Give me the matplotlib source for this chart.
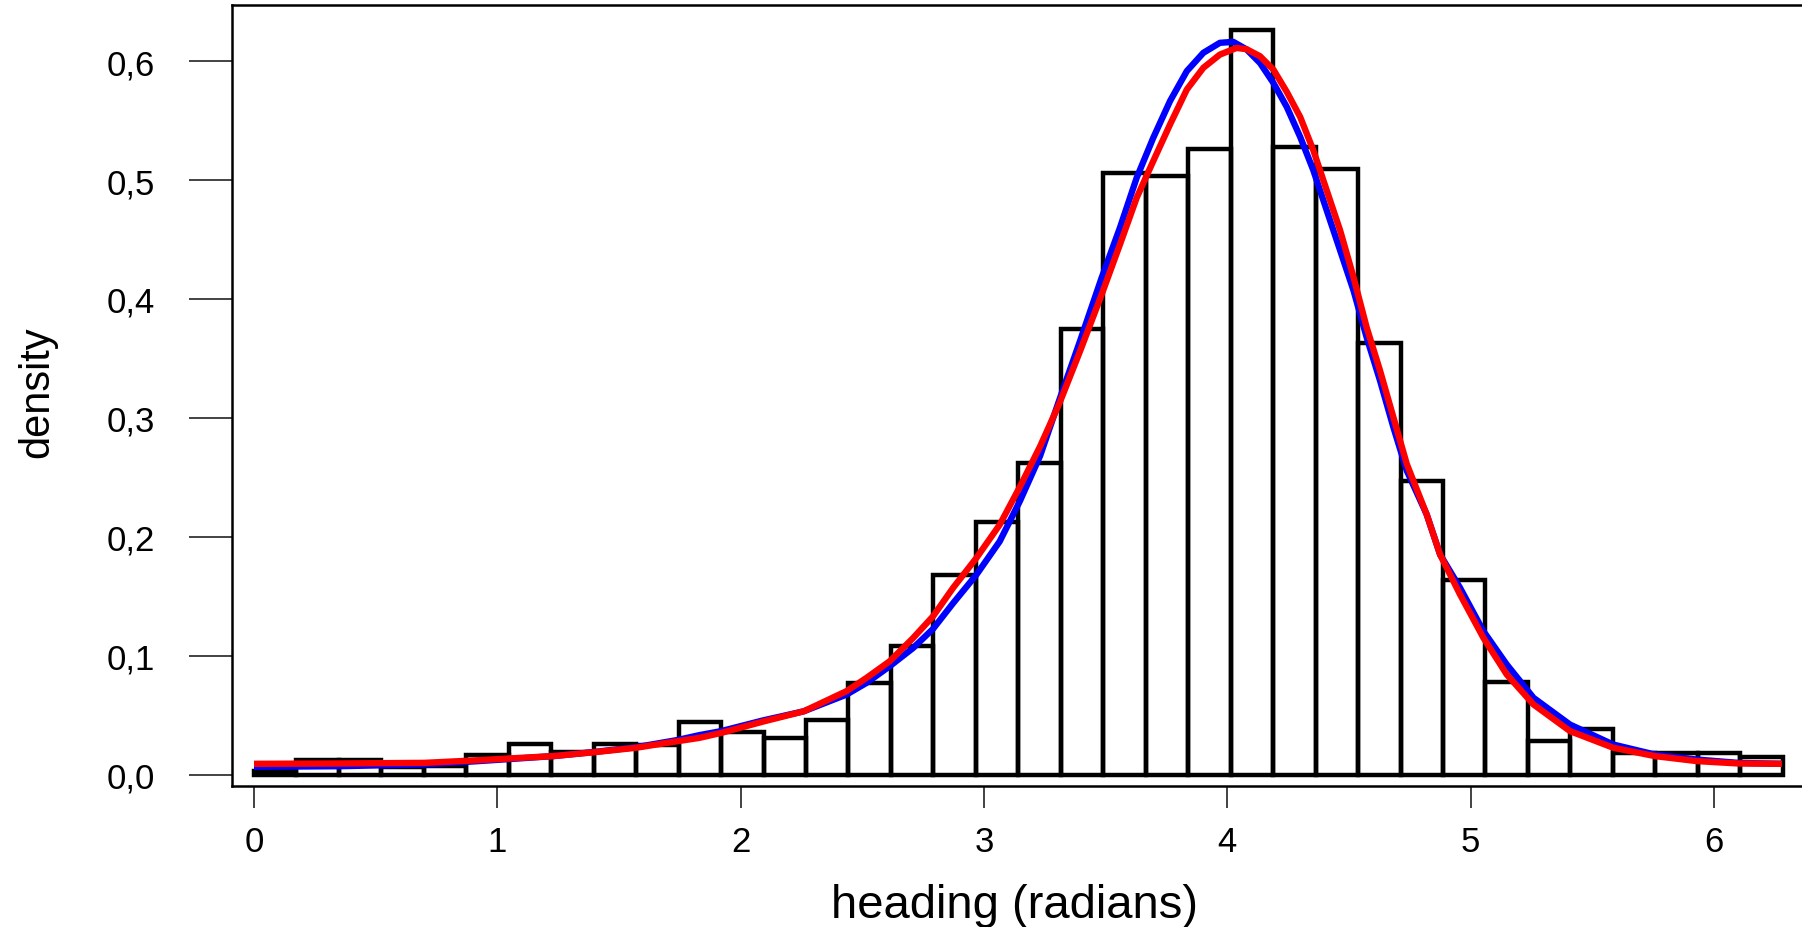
import numpy as np
import matplotlib
matplotlib.use("Agg")
import matplotlib.pyplot as plt

# ---------------- data ----------------
n_bins = 36
hist_density = [0.003, 0.012, 0.012, 0.006, 0.007, 0.016, 0.026, 0.019, 0.026, 0.025,
                0.044, 0.036, 0.031, 0.046, 0.077, 0.108, 0.168, 0.212, 0.262, 0.375,
                0.506, 0.503, 0.526, 0.626, 0.528, 0.509, 0.363, 0.247, 0.164, 0.078,
                0.028, 0.038, 0.018, 0.018, 0.018, 0.015]

blue_x = [0.0, 0.35, 0.70, 0.90, 1.05, 1.23, 1.40, 1.57, 1.74, 1.83, 1.92, 2.09, 2.26,
          2.435, 2.517, 2.613, 2.709, 2.791, 2.873, 2.969, 3.065, 3.148, 3.231, 3.310,
          3.395, 3.484, 3.559, 3.628, 3.696, 3.765, 3.834, 3.902, 3.970, 4.025, 4.080,
          4.135, 4.190, 4.245, 4.300, 4.354, 4.409, 4.464, 4.519, 4.573, 4.628, 4.683,
          4.738, 4.820, 4.875, 4.957, 5.053, 5.149, 5.259, 5.409, 5.587, 5.758, 5.93,
          6.10, 6.28]
blue_y = [0.0065, 0.007, 0.0085, 0.011, 0.013, 0.0155, 0.019, 0.023, 0.029, 0.0331,
          0.0365, 0.0454, 0.0532, 0.0672, 0.077, 0.0911, 0.1064, 0.1225, 0.1440, 0.168,
          0.1961, 0.230, 0.268, 0.3150, 0.3645, 0.4178, 0.4598, 0.5019, 0.5355, 0.5664,
          0.5916, 0.607, 0.6154, 0.6162, 0.6098, 0.5984, 0.5816, 0.5614, 0.5362, 0.5082,
          0.4745, 0.4409, 0.4072, 0.3678, 0.3314, 0.2921, 0.2556, 0.2187, 0.185, 0.157,
          0.1206, 0.0925, 0.0645, 0.042, 0.0252, 0.0168, 0.0126, 0.0098, 0.009]

red_x = [0.0, 0.35, 0.70, 0.90, 1.05, 1.23, 1.40, 1.57, 1.74, 1.83, 1.92, 2.09, 2.26,
         2.435, 2.517, 2.613, 2.709, 2.791, 2.873, 2.969, 3.065, 3.148, 3.231, 3.310,
         3.395, 3.484, 3.559, 3.628, 3.696, 3.765, 3.834, 3.902, 3.970, 4.039, 4.080,
         4.135, 4.190, 4.245, 4.300, 4.354, 4.409, 4.464, 4.519, 4.573, 4.628, 4.683,
         4.738, 4.820, 4.875, 4.957, 5.053, 5.149, 5.259, 5.409, 5.587, 5.758, 5.93,
         6.10, 6.28]
red_y = [0.009, 0.0093, 0.0098, 0.0118, 0.0135, 0.0155, 0.0188, 0.0225, 0.028, 0.0308,
         0.035, 0.0444, 0.0532, 0.0701, 0.0812, 0.0953, 0.1148, 0.1331, 0.1569, 0.1821,
         0.2101, 0.2420, 0.2760, 0.3120, 0.3560, 0.4037, 0.4457, 0.4851, 0.5159, 0.5467,
         0.5761, 0.5944, 0.6055, 0.6111, 0.6100, 0.6041, 0.5928, 0.5741, 0.5530, 0.5250,
         0.4913, 0.4577, 0.4184, 0.3762, 0.3398, 0.3005, 0.2612, 0.2187, 0.185, 0.1514,
         0.115, 0.0841, 0.0589, 0.0365, 0.0225, 0.0155, 0.0113, 0.0093, 0.009]

x_ticks = [0, 1, 2, 3, 4, 5, 6]
x_tick_labels = ["0", "1", "2", "3", "4", "5", "6"]
y_ticks = [0.0, 0.1, 0.2, 0.3, 0.4, 0.5, 0.6]
y_tick_labels = ["0,0", "0,1", "0,2", "0,3", "0,4", "0,5", "0,6"]
x_label = "heading (radians)"
y_label = "density"

# ---------------- figure ----------------
W, H = 1802, 928
fig = plt.figure(figsize=(W / 100, H / 100), dpi=100)
ax_left, ax_right, ax_top, ax_bottom = 232.3, 1802, 6, 786.7
ax = fig.add_axes([ax_left / W, 1 - ax_bottom / H,
                   (ax_right - ax_left) / W, (ax_bottom - ax_top) / H])

font = ["Liberation Sans", "DejaVu Sans"]

edges = np.linspace(0, 2 * np.pi, n_bins + 1)
ax.bar(edges[:-1], hist_density, width=np.diff(edges), align="edge",
       fill=False, edgecolor="black", linewidth=3.2, zorder=2)

ax.plot(blue_x, blue_y, color="#0000ff", linewidth=4.6, zorder=3,
        solid_joinstyle="round", solid_capstyle="butt")
ax.plot(red_x, red_y, color="#ff0000", linewidth=4.6, zorder=4,
        solid_joinstyle="round", solid_capstyle="butt")

ax.set_xlim(-0.0892, 6.3625)
ax.set_ylim(-0.0094, 0.6472)

ax.spines["right"].set_visible(False)
for s in ["left", "top", "bottom"]:
    ax.spines[s].set_linewidth(1.8)
    ax.spines[s].set_color("black")

ax.set_xticks(x_ticks)
ax.set_xticklabels(x_tick_labels, fontsize=25, family=font)
ax.set_yticks(y_ticks)
ax.set_yticklabels(y_tick_labels, fontsize=25, family=font)
ax.tick_params(axis="x", length=16, width=1.2, pad=12.5, color="#222222")
ax.tick_params(axis="y", length=31, width=1.2, pad=24.5, color="#222222")

ax.set_xlabel(x_label, fontsize=34, family=font, va="baseline")
ax.xaxis.set_label_coords(0.498, -0.168)
ax.set_ylabel(y_label, fontsize=30, family=font, va="center", ha="center")
ax.yaxis.set_label_coords(-0.1244, 0.5056)

fig.savefig("out.png", dpi=100)
